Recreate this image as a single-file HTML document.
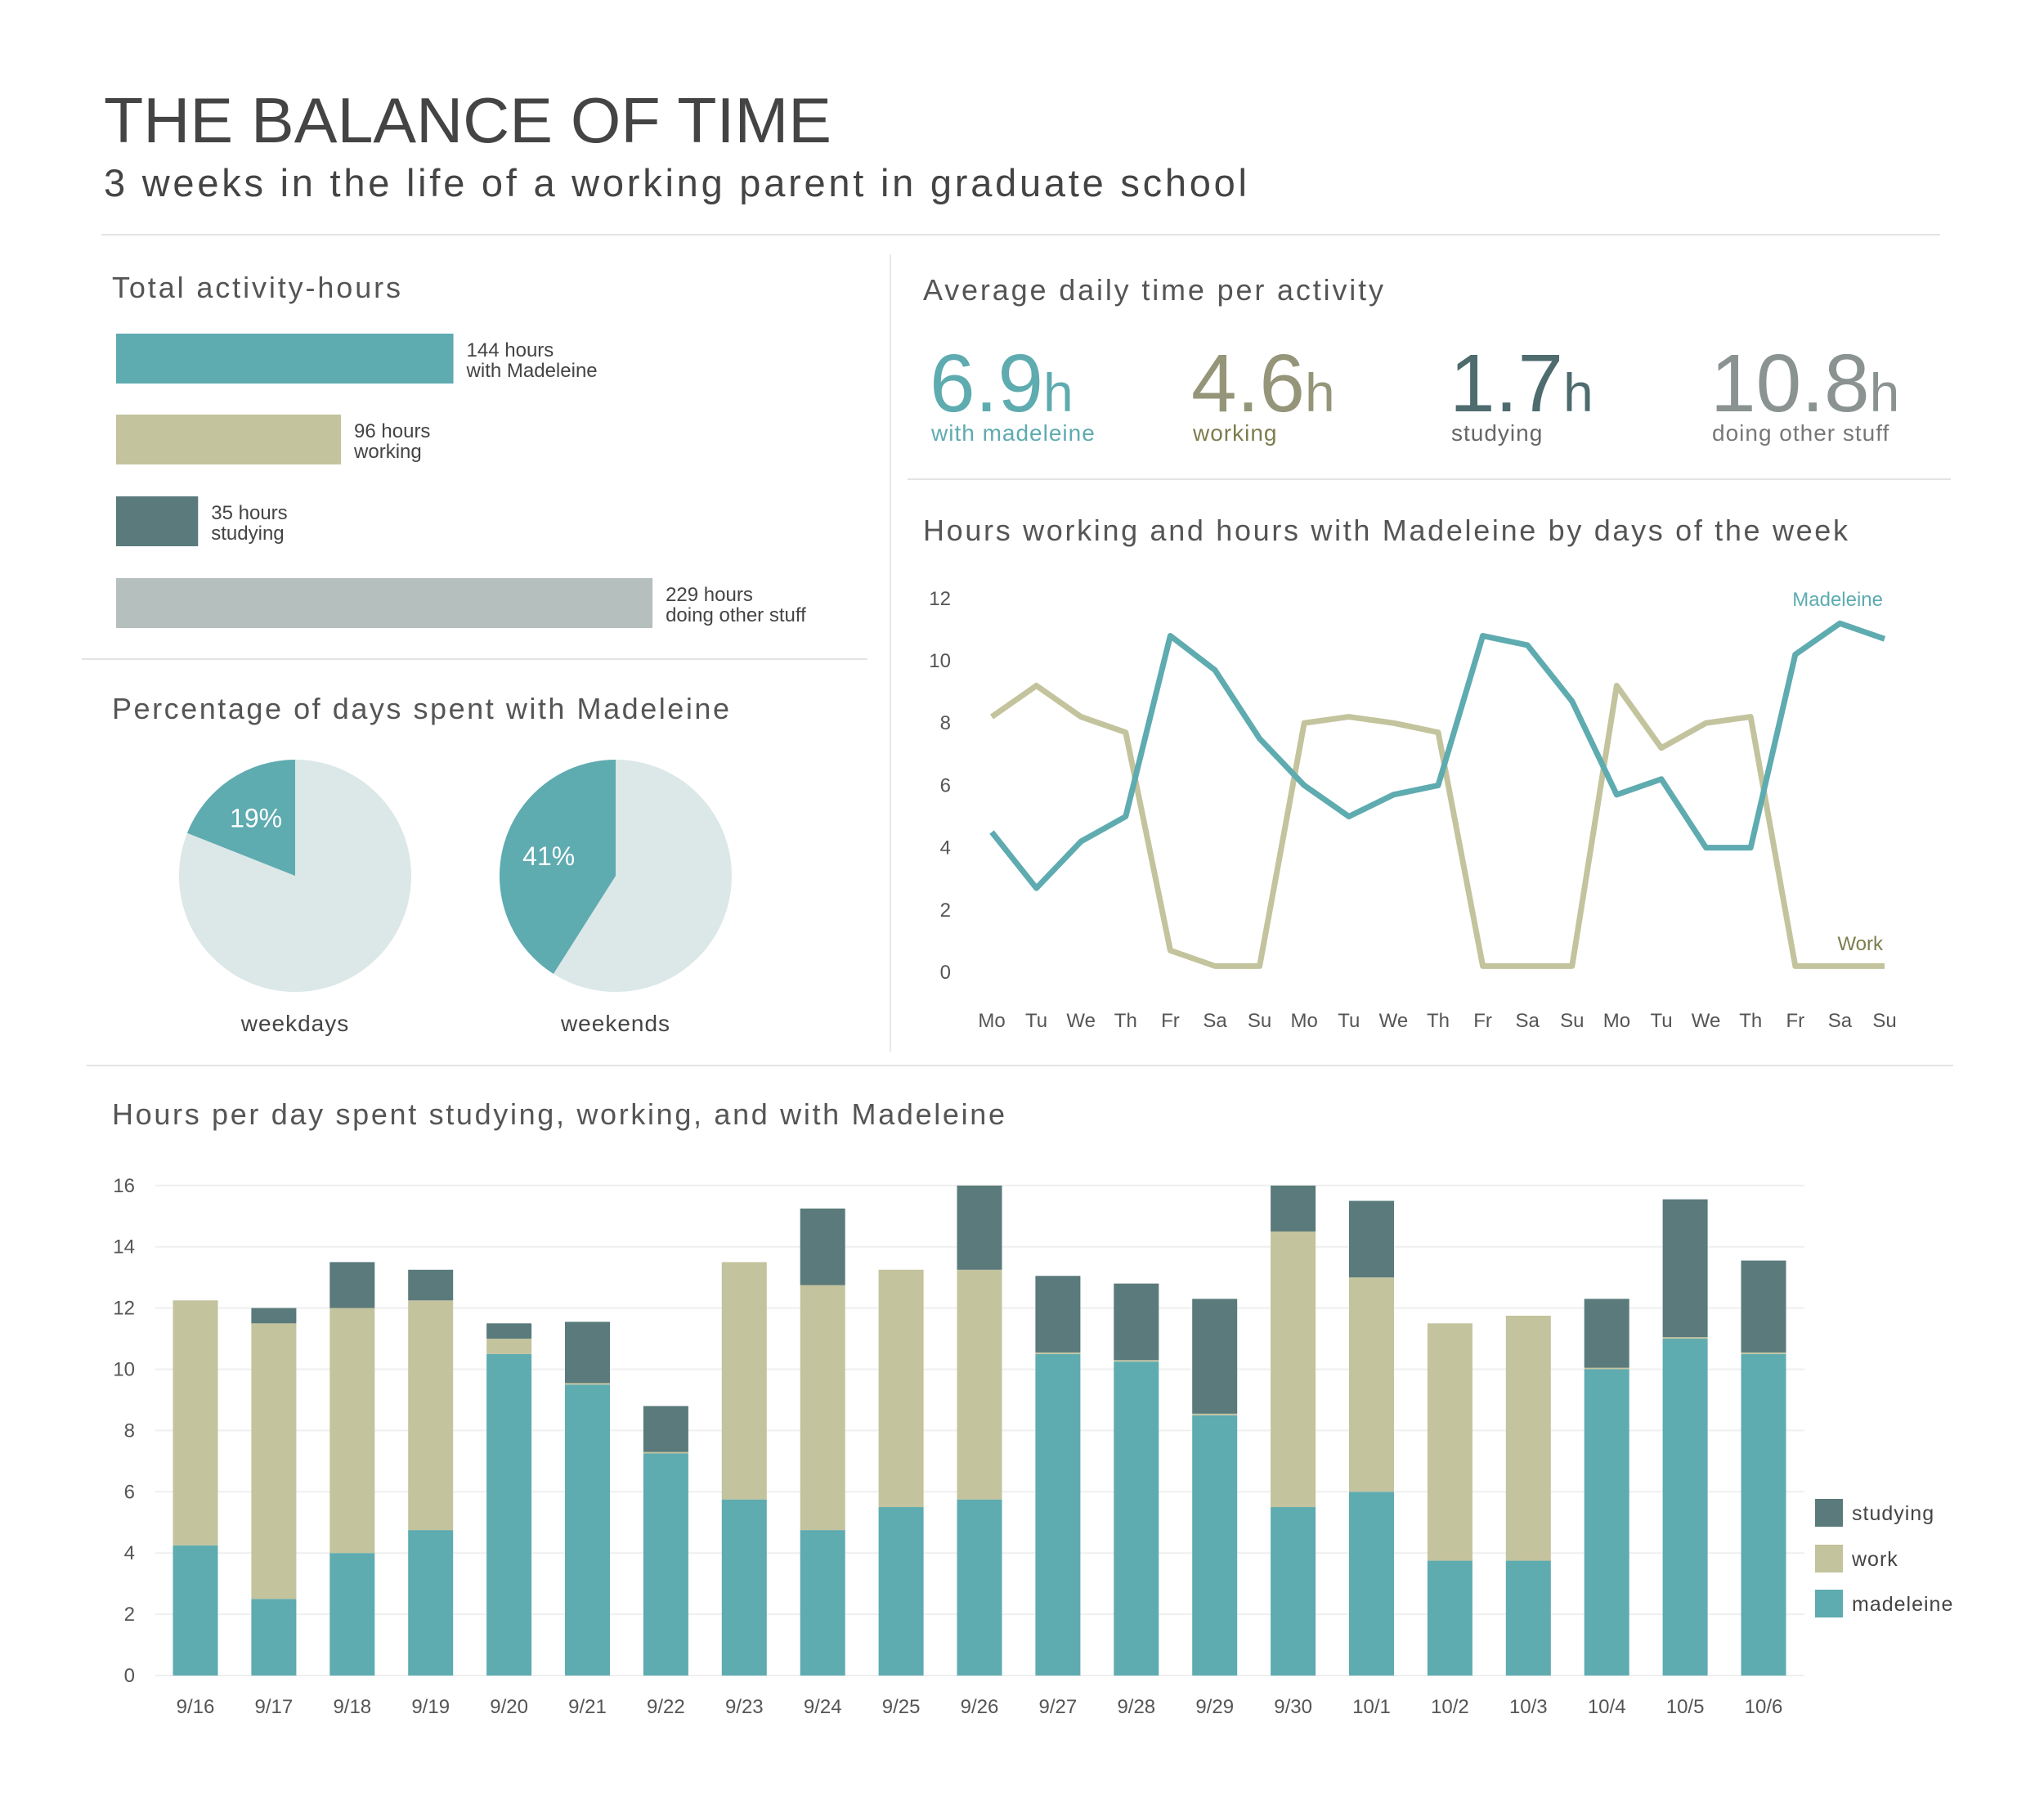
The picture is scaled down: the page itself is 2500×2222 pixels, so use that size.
<!DOCTYPE html>
<html><head><meta charset="utf-8"><style>
html,body{margin:0;padding:0;background:#fff;}
svg{display:block;font-family:"Liberation Sans",sans-serif;}
</style></head><body>
<svg id="page" width="2500" height="2222" viewBox="0 0 2500 2222" xmlns="http://www.w3.org/2000/svg">
<text x="127" y="174" font-size="78" fill="#444" textLength="890" lengthAdjust="spacingAndGlyphs">THE BALANCE OF TIME</text>
<text x="127" y="240" font-size="47" fill="#444" textLength="1398" lengthAdjust="spacing">3 weeks in the life of a working parent in graduate school</text>
<line x1="124" y1="287" x2="2373" y2="287" stroke="#e4e4e4" stroke-width="2"/>
<line x1="1089" y1="311" x2="1089" y2="1286" stroke="#e8e8e8" stroke-width="2"/>
<line x1="1110" y1="586" x2="2386" y2="586" stroke="#e4e4e4" stroke-width="2"/>
<line x1="100" y1="806" x2="1061" y2="806" stroke="#e4e4e4" stroke-width="2"/>
<line x1="106" y1="1303" x2="2389" y2="1303" stroke="#e4e4e4" stroke-width="2"/>

<g>
<text x="137" y="364" font-size="36" fill="#555" textLength="353" lengthAdjust="spacing">Total activity-hours</text>
<g id="totals"></g>
</g>

<g>
<text x="1129" y="367" font-size="36" fill="#555" textLength="563" lengthAdjust="spacing">Average daily time per activity</text>
<g id="avgs"></g>
</g>

<g>
<text x="137" y="879" font-size="36" fill="#555" textLength="755" lengthAdjust="spacing">Percentage of days spent with Madeleine</text>
<g id="pies"></g>
</g>

<g>
<text x="1129" y="661" font-size="36" fill="#555" textLength="1131" lengthAdjust="spacing">Hours working and hours with Madeleine by days of the week</text>
<g id="line"></g>
</g>

<g>
<text x="137" y="1375" font-size="36" fill="#555" textLength="1092" lengthAdjust="spacing">Hours per day spent studying, working, and with Madeleine</text>
<g id="bars"></g>
</g>
</svg>
<script>
const totalLabels = ["with Madeleine","working","studying","doing other stuff"];
const totalHours = [144,96,35,229];
const avgValues = ["6.9","4.6","1.7","10.8"];
const avgLabels = ["with madeleine","working","studying","doing other stuff"];
const pieLabels = ["weekdays","weekends"];
const piePercents = [19,41];
const weekDays = ["Mo","Tu","We","Th","Fr","Sa","Su","Mo","Tu","We","Th","Fr","Sa","Su","Mo","Tu","We","Th","Fr","Sa","Su"];
const lineMadeleine = [4.5,2.7,4.2,5,10.8,9.7,7.5,6,5,5.7,6,10.8,10.5,8.7,5.7,6.2,4,4,10.2,11.2,10.7];
const lineWork = [8.2,9.2,8.2,7.7,0.7,0.2,0.2,8,8.2,8,7.7,0.2,0.2,0.2,9.2,7.2,8,8.2,0.2,0.2,0.2];
const lineTicks = [0,2,4,6,8,10,12];
const barDates = ["9/16","9/17","9/18","9/19","9/20","9/21","9/22","9/23","9/24","9/25","9/26","9/27","9/28","9/29","9/30","10/1","10/2","10/3","10/4","10/5","10/6"];
const barMadeleine = [4.25,2.5,4,4.75,10.5,9.5,7.25,5.75,4.75,5.5,5.75,10.5,10.25,8.5,5.5,6,3.75,3.75,10,11,10.5];
const barWork = [8,9,8,7.5,0.5,0.05,0.05,7.75,8,7.75,7.5,0.05,0.05,0.05,9,7,7.75,8,0.05,0.05,0.05];
const barStudying = [0,0.5,1.5,1,0.5,2,1.5,0,2.5,0,2.75,2.5,2.5,3.75,1.5,2.5,0,0,2.25,4.5,3];
const barTicks = [0,2,4,6,8,10,12,14,16];

const NS="http://www.w3.org/2000/svg";
function mk(tag,attrs,parent,text){const e=document.createElementNS(NS,tag);for(const k in attrs)e.setAttribute(k,attrs[k]);if(text!==undefined)e.textContent=text;parent.appendChild(e);return e;}
const C={mad:"#5eabb0",work:"#c3c39d",study:"#5a7a7b",other:"#b5bfbd"};

// totals
const tg=document.getElementById('totals');
const tColors=[C.mad,C.work,C.study,C.other];
const tY=[408,507,607,707];
totalHours.forEach((h,i)=>{
  const w=h*2.865;
  const r=mk('rect',{x:142,y:tY[i],width:w,height:61,fill:tColors[i]},tg);
  
  
  const t1=mk('text',{x:142+w+16,y:tY[i]+28,'font-size':24,fill:'#444'},tg,h+' hours');
  
  
  const t2=mk('text',{x:142+w+16,y:tY[i]+53,'font-size':24,fill:'#444'},tg,totalLabels[i]);
  
  
});

// averages
const ag=document.getElementById('avgs');
const aX=[1137,1457,1773,2092];
const aC=["#5eabb0","#95957a","#4e6b6e","#8b9392"];
const aL=["#5eabb0","#7d7d4e","#666","#777"];
avgValues.forEach((v,i)=>{
  const t=mk('text',{x:aX[i],y:503,'font-size':100,fill:aC[i],'font-weight':'300'},ag);
  
  
  mk('tspan',{},t,v);
  mk('tspan',{'font-size':66},t,'h');
  const l=mk('text',{x:aX[i]+2,y:539,'font-size':28,fill:aL[i],'letter-spacing':1},ag,avgLabels[i]);
  
  
});

// pies
const pg=document.getElementById('pies');
const pcx=[361,753], pcy=1071, pr=142;
piePercents.forEach((p,i)=>{
  const c=mk('circle',{cx:pcx[i],cy:pcy,r:pr,fill:'#dce7e7'},pg);
  
  
  const a=-p/100*2*Math.PI;
  const x=pcx[i]+pr*Math.sin(a), y=pcy-pr*Math.cos(a);
  const large=p>50?1:0;
  const s=mk('path',{d:`M${pcx[i]},${pcy} L${pcx[i]},${pcy-pr} A${pr},${pr} 0 ${large} 0 ${x},${y} Z`,fill:C.mad},pg);
  
  
  const m=a/2, lr=pr*0.6;
  const pt=mk('text',{x:pcx[i]+lr*Math.sin(m),y:pcy-lr*Math.cos(m)+11,'font-size':32,fill:'#fff','text-anchor':'middle'},pg,p+'%');
  
  
  const lt=mk('text',{x:pcx[i],y:1261,'font-size':28,fill:'#444','text-anchor':'middle','letter-spacing':1},pg,pieLabels[i]);
  
  
});

// line chart
const lg=document.getElementById('line');
const lx=i=>1213+i*54.6, ly=v=>1189-v*38.1;
lineTicks.forEach(t=>{
  const e=mk('text',{x:1163,y:ly(t)+8,'font-size':24,fill:'#555','text-anchor':'end'},lg,t);
  
  
});
weekDays.forEach((d,i)=>{
  const e=mk('text',{x:lx(i),y:1256,'font-size':24,fill:'#555','text-anchor':'middle'},lg,d);
  
  
});
const wl=mk('polyline',{points:lineWork.map((v,i)=>lx(i)+','+ly(v)).join(' '),fill:'none',stroke:C.work,'stroke-width':7,'stroke-linejoin':'round'},lg);


const ml=mk('polyline',{points:lineMadeleine.map((v,i)=>lx(i)+','+ly(v)).join(' '),fill:'none',stroke:C.mad,'stroke-width':7,'stroke-linejoin':'round'},lg);


const lm=mk('text',{x:2303,y:741,'font-size':24,fill:'#5eabb0','text-anchor':'end'},lg,'Madeleine');


const lw=mk('text',{x:2303,y:1162,'font-size':24,fill:'#7d7d4e','text-anchor':'end'},lg,'Work');



// bars
const bg=document.getElementById('bars');
const bx=i=>239+i*95.9, by=v=>2049-v*37.45, bw=55;
barTicks.forEach(t=>{
  const g=mk('line',{x1:190,x2:2207,y1:by(t),y2:by(t),stroke:'#efefef','stroke-width':2},bg);
  
  
  const e=mk('text',{x:165,y:by(t)+8,'font-size':24,fill:'#555','text-anchor':'end'},bg,t);
  
  
});
barDates.forEach((d,i)=>{
  let base=0;
  [[barMadeleine[i],C.mad,'madeleine'],[barWork[i],C.work,'work'],[barStudying[i],C.study,'studying']].forEach(([v,col,n])=>{
    if(v>0){
      const r=mk('rect',{x:bx(i)-bw/2,y:by(base+v),width:bw,height:by(base)-by(base+v),fill:col},bg);
      
      
    }
    base+=v;
  });
  const e=mk('text',{x:bx(i),y:2095,'font-size':24,fill:'#555','text-anchor':'middle'},bg,d);
  
  
});
const legend=[["studying",C.study,1833],["work",C.work,1889],["madeleine",C.mad,1944]];
legend.forEach(([n,col,y])=>{
  const r=mk('rect',{x:2220,y:y,width:34,height:34,fill:col},bg);
  
  
  const t=mk('text',{x:2265,y:y+26,'font-size':25,fill:'#444','letter-spacing':1},bg,n);
  
  
});
</script>
</body></html>
